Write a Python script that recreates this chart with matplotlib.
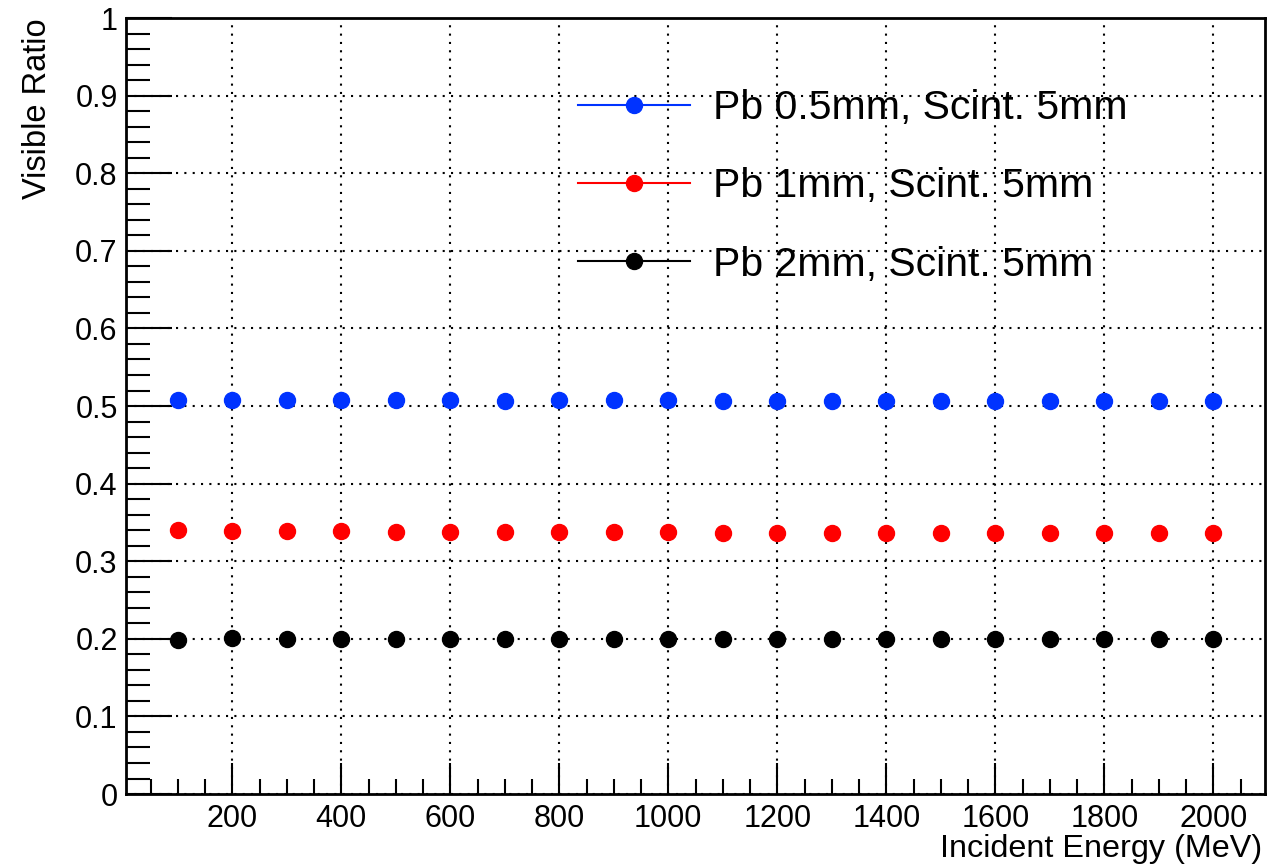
import matplotlib.pyplot as plt
from matplotlib.ticker import MultipleLocator, FixedLocator
from matplotlib.lines import Line2D

plt.rcParams["font.family"] = ["Liberation Sans", "DejaVu Sans"]

# incident energy (MeV)
energy = [100, 200, 300, 400, 500, 600, 700, 800, 900, 1000,
          1100, 1200, 1300, 1400, 1500, 1600, 1700, 1800, 1900, 2000]

# visible ratio for each Pb thickness
ratio_pb05 = [0.508, 0.508, 0.508, 0.508, 0.508, 0.508, 0.507, 0.508, 0.508, 0.508,
              0.507, 0.507, 0.507, 0.507, 0.507, 0.507, 0.507, 0.507, 0.507, 0.507]
ratio_pb1 = [0.340, 0.339, 0.339, 0.339, 0.338, 0.338, 0.338, 0.338, 0.338, 0.338,
             0.337, 0.337, 0.337, 0.337, 0.337, 0.337, 0.337, 0.337, 0.337, 0.337]
ratio_pb2 = [0.199, 0.201, 0.200, 0.200, 0.200, 0.200, 0.200, 0.200, 0.200, 0.200,
             0.200, 0.200, 0.200, 0.200, 0.200, 0.200, 0.200, 0.200, 0.200, 0.200]

labels = ["Pb 0.5mm, Scint. 5mm", "Pb 1mm, Scint. 5mm", "Pb 2mm, Scint. 5mm"]
colors = ["#0033ff", "#ff0000", "#000000"]

y_ticks = [0, 0.1, 0.2, 0.3, 0.4, 0.5, 0.6, 0.7, 0.8, 0.9, 1]
y_ticklabels = ["0", "0.1", "0.2", "0.3", "0.4", "0.5", "0.6", "0.7", "0.8", "0.9", "1"]

fig = plt.figure(figsize=(12.7, 8.66), dpi=100)
ax = fig.add_axes([0.0992, 0.0831, 0.8969, 0.8961])

for ys, c, lab in zip([ratio_pb05, ratio_pb1, ratio_pb2], colors, labels):
    ax.plot(energy, ys, linestyle="none", marker="o", ms=11.5, color=c, label=lab, zorder=3)

ax.set_xlim(5, 2095)
ax.set_ylim(0, 1)
ax.xaxis.set_major_locator(MultipleLocator(200))
ax.xaxis.set_minor_locator(MultipleLocator(50))
ax.yaxis.set_major_locator(FixedLocator(y_ticks))
ax.set_yticklabels(y_ticklabels)
ax.yaxis.set_minor_locator(MultipleLocator(0.02))

ax.tick_params(axis="both", which="both", direction="in", labelsize=22, top=False, right=False)
ax.tick_params(axis="x", which="major", length=22, width=1.5, pad=7)
ax.tick_params(axis="x", which="minor", length=11, width=1.5)
ax.tick_params(axis="y", which="major", length=33, width=1.5, pad=6)
ax.tick_params(axis="y", which="minor", length=17, width=1.5)

ax.grid(True, which="major", linestyle=(0, (1, 3)), color="black", linewidth=1.5)
for s in ax.spines.values():
    s.set_linewidth(2)

fig.text(0.9937, 0.002, "Incident Energy (MeV)", ha="right", va="bottom", fontsize=23.3)
fig.text(0.017, 0.979, "Visible Ratio", rotation=90, ha="left", va="top", fontsize=23.5)

# legend: line with marker in the middle, no frame
handles = [Line2D([0], [0], color=c, lw=1.5, marker="o", ms=11.5) for c in colors]
fig.legend(handles, labels, loc="upper left", bbox_to_anchor=(0.455, 0.897),
           frameon=False, fontsize=29.5, handlelength=2.73, handletextpad=0.56,
           labelspacing=0.98, borderpad=0, borderaxespad=0)

fig.savefig("out.png", dpi=100)
